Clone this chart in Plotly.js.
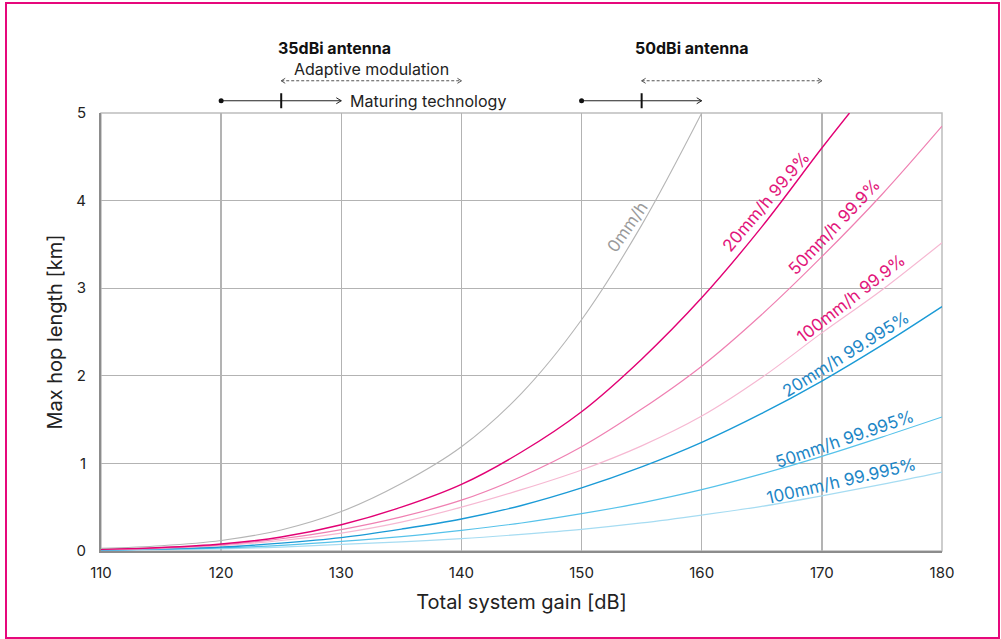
<!DOCTYPE html>
<html>
<head>
<meta charset="utf-8">
<script src="https://cdn.plot.ly/plotly-3.0.1.min.js"></script>
<style>
  html, body { margin:0; padding:0; background:#fff; }
  #wrap { position:relative; width:1001px; height:639px; }
  #chart { position:absolute; left:0; top:0; width:1001px; height:639px; }
  #frame { position:absolute; left:5px; top:2px; width:991px; height:633px; border:2px solid #E6087C; pointer-events:none; }
</style>
</head>
<body>
<div id="wrap"><div id="chart"></div><div id="frame"></div></div>
<script>
// ---- data ----
const xTicks = [110, 120, 130, 140, 150, 160, 170, 180];
const yTicks = [0, 1, 2, 3, 4, 5];

const gain0 = [110, 115, 120, 125, 130, 135, 140, 145, 150, 155, 160];
const hop0mm = [0.03, 0.06, 0.12, 0.24, 0.45, 0.77, 1.19, 1.80, 2.64, 3.72, 5.0];

const gain20_999 = [110, 115, 120, 125, 130, 135, 140, 145, 150, 155, 160, 165, 170, 172.3];
const hop20_999 = [0.02, 0.04, 0.08, 0.16, 0.30, 0.50, 0.76, 1.13, 1.59, 2.19, 2.89, 3.70, 4.60, 5.0];

const gainFull = [110, 115, 120, 125, 130, 135, 140, 145, 150, 155, 160, 165, 170, 175, 180];
const hop50_999 = [0.018, 0.035, 0.07, 0.14, 0.245, 0.39, 0.58, 0.85, 1.19, 1.62, 2.11, 2.70, 3.36, 4.07, 4.85];
const hop100_999 = [0.016, 0.03, 0.06, 0.12, 0.205, 0.33, 0.50, 0.70, 0.925, 1.20, 1.54, 1.98, 2.49, 2.98, 3.52];
const hop20_99995 = [0.012, 0.025, 0.045, 0.09, 0.153, 0.25, 0.365, 0.52, 0.72, 0.96, 1.24, 1.57, 1.94, 2.35, 2.79];
const hop50_99995 = [0.01, 0.02, 0.035, 0.065, 0.11, 0.165, 0.236, 0.32, 0.426, 0.55, 0.70, 0.88, 1.08, 1.30, 1.53];
const hop100_99995 = [0.008, 0.015, 0.025, 0.045, 0.076, 0.105, 0.141, 0.19, 0.247, 0.32, 0.41, 0.51, 0.63, 0.76, 0.90];

const seriesNames = ['0mm/h', '20mm/h 99.9%', '50mm/h 99.9%', '100mm/h 99.9%',
                     '20mm/h 99.995%', '50mm/h 99.995%', '100mm/h 99.995%'];

// label positions (data coords) and angles
const labelX = [153.8, 165.4, 171.0, 172.45, 172.0, 171.9, 171.6];
const labelY = [3.70, 3.99, 3.70, 2.89, 2.25, 1.28, 0.80];
const labelAngle = [-55, -50, -46.6, -38, -32, -19, -13];

// antenna/technology ranges
const antennaNames = ['35dBi antenna', '50dBi antenna'];
const antennaCenter = [129.4, 159.2];
const dotGain = [120, 150];
const tickGain = [125, 155];
const arrowEnd = [130, 160];
const adaptiveEnd = [140, 170];

// ---- styles ----
const FONT = 'Inter, "Noto Sans", sans-serif';
const lineColors = ['#B5B5B5', '#E20074', '#EF80B2', '#F6B8D2', '#1A9AD6', '#56C2EA', '#A6DCF2'];
const lineWidths = [1.1, 1.4, 1.2, 1.2, 1.4, 1.2, 1.2];
const labelColors = ['#9A9A9A', '#E2157A', '#E2157A', '#E2157A', '#1C86C6', '#1C86C6', '#1C86C6'];

const xs = [gain0, gain20_999, gainFull, gainFull, gainFull, gainFull, gainFull];
const ys = [hop0mm, hop20_999, hop50_999, hop100_999, hop20_99995, hop50_99995, hop100_99995];

const traces = [];
for (let i = ys.length - 1; i >= 0; i--) {
  traces.push({
    type: 'scatter', mode: 'lines', name: seriesNames[i],
    x: xs[i], y: ys[i],
    line: { color: lineColors[i], width: lineWidths[i], shape: 'spline', smoothing: 1 },
    hoverinfo: 'x+y+name'
  });
}

const annotations = [];
for (let i = 0; i < seriesNames.length; i++) {
  annotations.push({
    x: labelX[i], y: labelY[i], xref: 'x', yref: 'y',
    text: seriesNames[i], showarrow: false, textangle: labelAngle[i],
    font: { family: FONT, size: 17, color: labelColors[i] }
  });
}

const yArrow = 1.028, yDash = 1.0735;
const shapes = [
  { type: 'rect', xref: 'paper', yref: 'paper', x0: 0, x1: 1, y0: 0, y1: 1,
    line: { color: '#BDBDBD', width: 1.5 }, layer: 'below' }
];
for (let k = 0; k < 2; k++) {
  annotations.push({
    x: antennaCenter[k], y: 1.149, xref: 'x', yref: 'paper', showarrow: false,
    xanchor: 'center', yanchor: 'middle',
    text: '<b>' + antennaNames[k] + '</b>', font: { family: FONT, size: 16, color: '#111' }
  });
  shapes.push({ type: 'line', xref: 'x', yref: 'paper', x0: dotGain[k], x1: arrowEnd[k], y0: yArrow, y1: yArrow,
    line: { color: '#222', width: 1.2 } });
  shapes.push({ type: 'circle', xref: 'x', yref: 'paper', xsizemode: 'pixel', ysizemode: 'pixel',
    xanchor: dotGain[k], yanchor: yArrow, x0: -2.5, x1: 2.5, y0: -2.5, y1: 2.5,
    fillcolor: '#111', line: { color: '#111', width: 0 } });
  shapes.push({ type: 'line', xref: 'x', yref: 'paper', xsizemode: 'pixel', ysizemode: 'pixel',
    xanchor: tickGain[k], yanchor: yArrow, x0: 0, x1: 0, y0: -7.5, y1: 7.5,
    line: { color: '#111', width: 2 } });
  shapes.push({ type: 'path', xref: 'x', yref: 'paper', xsizemode: 'pixel', ysizemode: 'pixel',
    xanchor: arrowEnd[k], yanchor: yArrow, path: 'M-5,-3L0,0L-5,3',
    line: { color: '#222', width: 1 } });
  shapes.push({ type: 'line', xref: 'x', yref: 'paper', x0: tickGain[k], x1: adaptiveEnd[k], y0: yDash, y1: yDash,
    line: { color: '#555', width: 1.1, dash: '3px,2px' } });
  shapes.push({ type: 'path', xref: 'x', yref: 'paper', xsizemode: 'pixel', ysizemode: 'pixel',
    xanchor: tickGain[k], yanchor: yDash, path: 'M4,-2.5L0,0L4,2.5', line: { color: '#555', width: 1 } });
  shapes.push({ type: 'path', xref: 'x', yref: 'paper', xsizemode: 'pixel', ysizemode: 'pixel',
    xanchor: adaptiveEnd[k], yanchor: yDash, path: 'M-4,-2.5L0,0L-4,2.5', line: { color: '#555', width: 1 } });
}
annotations.push({
  x: 132.5, y: 1.1, xref: 'x', yref: 'paper', showarrow: false,
  xanchor: 'center', yanchor: 'middle',
  text: 'Adaptive modulation', font: { family: FONT, size: 16, color: '#222' }
});
annotations.push({
  x: 130.6, y: 1.028, xref: 'x', yref: 'paper', showarrow: false,
  xanchor: 'left', yanchor: 'middle',
  text: 'Maturing technology', font: { family: FONT, size: 16, color: '#222' }
});

const layout = {
  width: 1001, height: 639,
  margin: { l: 101, r: 59, t: 113, b: 88 },
  paper_bgcolor: '#fff', plot_bgcolor: '#fff',
  showlegend: false,
  font: { family: FONT, color: '#222' },
  xaxis: {
    range: [110, 180], tickvals: xTicks, ticktext: xTicks.map(String),
    showgrid: true, gridcolor: '#B3B3B3', gridwidth: 1.3, zeroline: false,
    showline: true, linecolor: '#8C8C8C', linewidth: 2,
    ticks: 'outside', ticklen: 7, tickcolor: 'rgba(0,0,0,0)',
    tickfont: { family: FONT, size: 15, color: '#222' },
    title: { text: 'Total system gain [dB]', font: { family: FONT, size: 20, color: '#222' }, standoff: 14 },
    fixedrange: true
  },
  yaxis: {
    range: [0, 5], tickvals: yTicks, ticktext: yTicks.map(String),
    showgrid: true, gridcolor: '#B3B3B3', gridwidth: 1.3, zeroline: false,
    showline: true, linecolor: '#8C8C8C', linewidth: 2,
    ticks: 'outside', ticklen: 10, tickcolor: 'rgba(0,0,0,0)',
    tickfont: { family: FONT, size: 15, color: '#222' },
    title: { text: 'Max hop length [km]', font: { family: FONT, size: 20, color: '#222' }, standoff: 8 },
    fixedrange: true
  },
  annotations: annotations,
  shapes: shapes
};

Plotly.newPlot('chart', traces, layout, { displayModeBar: false, staticPlot: true });
</script>
</body>
</html>
